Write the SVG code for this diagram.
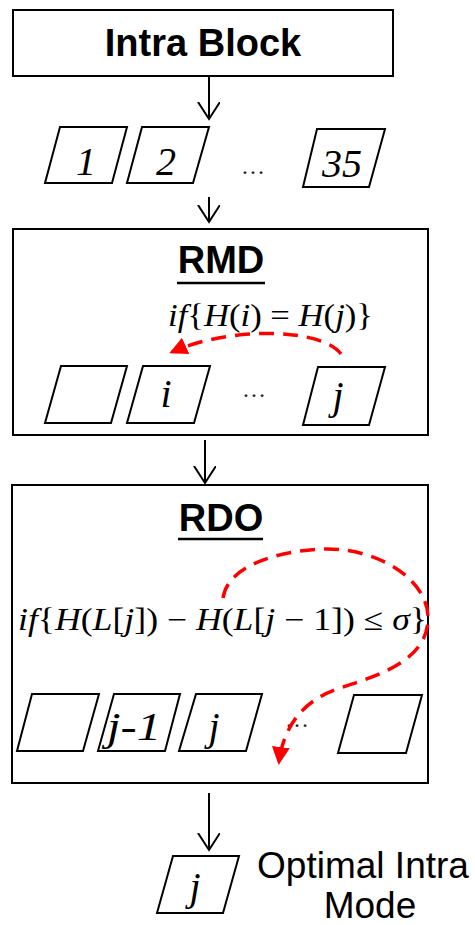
<svg xmlns="http://www.w3.org/2000/svg" width="475" height="925" viewBox="0 0 475 925">
  <defs>
    <marker id="open-arrow" markerUnits="userSpaceOnUse" markerWidth="24" markerHeight="24" refX="17" refY="11" orient="auto">
      <path d="M0,0 L17,11 L0,22" fill="none" stroke="#000" stroke-width="2"/>
    </marker>
    <marker id="red-head" markerUnits="userSpaceOnUse" markerWidth="22" markerHeight="22" refX="15" refY="9" orient="auto">
      <path d="M0,0 L18,9 L0,18 Z" fill="#f00"/>
    </marker>
    <style>
      .box { fill: #fff; stroke: #000; stroke-width: 2; }
      .para { fill: #fff; stroke: #000; stroke-width: 2; stroke-linejoin: miter; }
      .flow { fill: none; stroke: #000; stroke-width: 2; marker-end: url(#open-arrow); }
      .loop { fill: none; stroke: #f00; stroke-width: 3.5; stroke-dasharray: 15 9; marker-end: url(#red-head); }
      .title { font-family: "Liberation Sans", Arial, sans-serif; font-weight: bold; font-size: 38px; text-anchor: middle; }
      .label { font-family: "Liberation Sans", Arial, sans-serif; font-size: 37px; text-anchor: middle; }
      .num { font-family: "Liberation Serif", "Times New Roman", serif; font-style: italic; font-size: 40px; text-anchor: middle; }
      .dots { font-family: "Liberation Serif", serif; font-size: 24px; text-anchor: middle; fill: #222; }
      .math { font-family: "Liberation Serif", "DejaVu Serif", serif; font-size: 31px; }
      .v { font-style: italic; }
    </style>
  </defs>

  <!-- flow connectors -->
  <g id="connectors">
    <line class="flow" x1="209" y1="76" x2="209" y2="119"/>
    <line class="flow" x1="209" y1="197" x2="209" y2="222"/>
    <line class="flow" x1="205" y1="440" x2="205" y2="483"/>
    <line class="flow" x1="209" y1="793" x2="209" y2="850"/>
  </g>

  <g id="intra-block">
    <rect class="box" x="13" y="10" width="380" height="66"/>
    <text class="title" x="203" y="56">Intra Block</text>
  </g>

  <!-- candidate mode list -->
  <g id="modes">
    <polygon class="para" points="60,127 127,127 112,183 45,183"/>
    <text class="num" x="86" y="175">1</text>
    <polygon class="para" points="142,127 209,127 193,183 127,183"/>
    <text class="num" x="166" y="175">2</text>
    <text class="dots" x="253" y="174">…</text>
    <polygon class="para" points="317,129 385,129 369,187 303,187"/>
    <text class="num" x="342" y="177">35</text>
  </g>

  <g id="rmd">
    <rect class="box" x="13" y="229" width="415" height="206"/>
    <text class="title" x="221" y="273">RMD</text>
    <line x1="177" y1="283" x2="265" y2="283" stroke="#000" stroke-width="2.5"/>
    <text class="math" x="168" y="326" textLength="205" lengthAdjust="spacingAndGlyphs"><tspan class="v">if</tspan>{<tspan class="v">H</tspan>(<tspan class="v">i</tspan>) = <tspan class="v">H</tspan>(<tspan class="v">j</tspan>)}</text>
    <polygon class="para" points="61,366 127,366 111,423 45,423"/>
    <polygon class="para" points="143,366 210,366 194,423 127,423"/>
    <text class="num" x="166" y="407">i</text>
    <text class="dots" x="254" y="397">…</text>
    <polygon class="para" points="318,367 385,367 369,425 303,425"/>
    <text class="num" x="338" y="409">j</text>
    <path class="loop" d="M341,354 C322,328 230,326 172,352"/>
  </g>

  <g id="rdo">
    <rect class="box" x="12" y="485" width="416" height="298"/>
    <text class="title" x="221" y="531">RDO</text>
    <line x1="178" y1="539" x2="263" y2="539" stroke="#000" stroke-width="2.5"/>
    <text class="math" x="18" y="630" font-size="35" textLength="409" lengthAdjust="spacingAndGlyphs"><tspan class="v">if</tspan>{<tspan class="v">H</tspan>(<tspan class="v">L</tspan>[<tspan class="v">j</tspan>]) − <tspan class="v">H</tspan>(<tspan class="v">L</tspan>[<tspan class="v">j</tspan> − 1]) ≤ <tspan class="v">σ</tspan>}</text>
    <polygon class="para" points="32,694 99,694 83,751 17,751"/>
    <polygon class="para" points="114,694 180,694 165,751 98,751"/>
    <text class="num" x="134" y="740" font-size="37" textLength="54" lengthAdjust="spacingAndGlyphs">j-1</text>
    <polygon class="para" points="196,694 262,694 246,751 179,751"/>
    <text class="num" x="214" y="740">j</text>
    <text class="dots" x="297" y="727">…</text>
    <polygon class="para" points="354,695 422,695 406,753 338,753"/>
    <path class="loop" d="M223,598 C228,562 290,549 327,549 C380,549 428,580 428,618 C428,660 380,675 340,688 C300,701 283,730 279,762"/>
  </g>

  <g id="optimal-mode">
    <polygon class="para" points="173,856 239,856 223,913 157,913"/>
    <text class="num" x="195" y="900">j</text>
    <text class="label" x="363" y="878">Optimal Intra</text>
    <text class="label" x="370" y="918">Mode</text>
  </g>
</svg>
